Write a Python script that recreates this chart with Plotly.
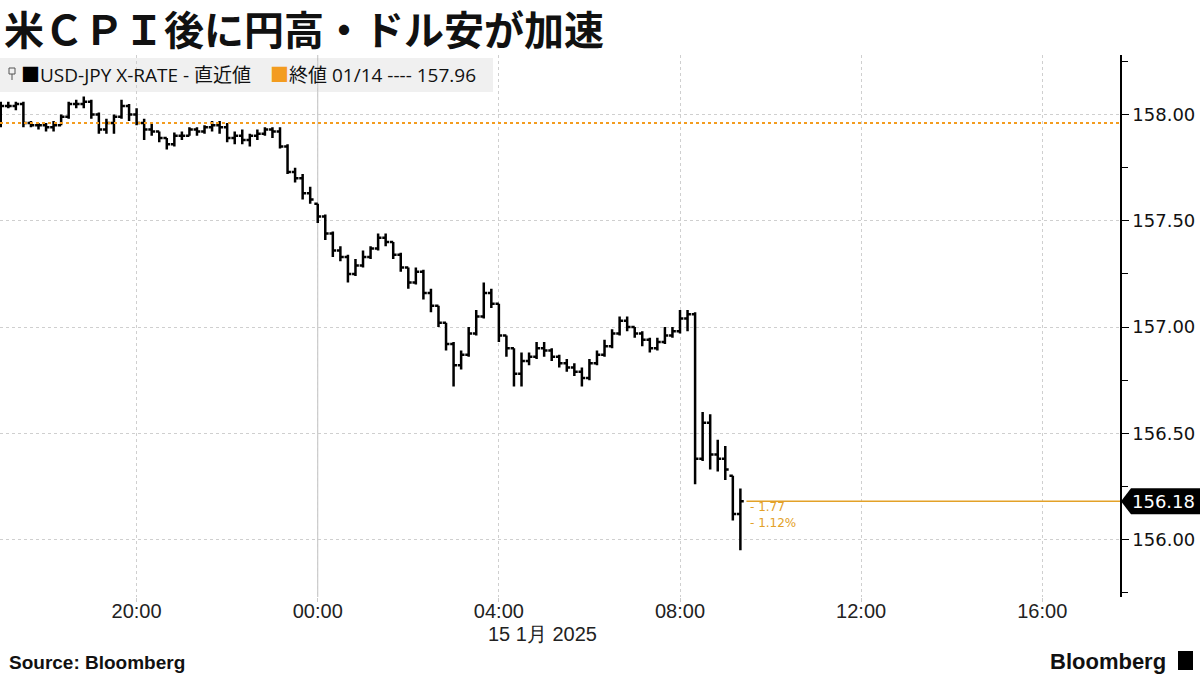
import pandas as pd
import plotly.graph_objects as go

# ---- data (10-minute bars, USD-JPY) ----
bar_start = "2025-01-14 17:00"
bar_count = 99
times = pd.date_range(bar_start, periods=bar_count, freq="10min")

opens = [158.03,158.04,158.04,158.05,157.96,157.95,157.95,157.94,157.95,157.99,
         158.05,158.05,158.06,158.00,157.93,157.96,157.99,158.04,158.00,157.96,
         157.93,157.92,157.89,157.86,157.90,157.90,157.93,157.92,157.94,157.95,
         157.94,157.89,157.90,157.88,157.90,157.91,157.93,157.92,157.85,157.73,
         157.70,157.63,157.58,157.52,157.44,157.36,157.33,157.25,157.29,157.33,
         157.37,157.42,157.40,157.34,157.28,157.21,157.26,157.16,157.10,157.02,
         156.92,156.82,156.87,156.97,157.05,157.16,157.11,156.96,156.90,156.78,
         156.84,156.86,156.90,156.89,156.86,156.83,156.81,156.79,156.76,156.83,
         156.87,156.91,156.97,157.03,157.00,156.97,156.94,156.90,156.93,156.96,
         156.98,157.04,157.06,156.38,156.55,156.40,156.38,156.30,156.12]
highs = [158.06,158.06,158.06,158.06,157.97,157.96,157.96,157.97,158.00,158.06,
         158.07,158.085,158.07,158.01,157.98,158.00,158.07,158.05,158.03,157.98,
         157.96,157.92,157.89,157.915,157.92,157.94,157.94,157.95,157.97,157.97,
         157.96,157.92,157.93,157.91,157.93,157.94,157.94,157.94,157.86,157.75,
         157.72,157.66,157.58,157.53,157.45,157.38,157.34,157.32,157.36,157.38,
         157.44,157.44,157.40,157.35,157.28,157.28,157.27,157.18,157.10,157.02,
         156.93,156.89,157.00,157.08,157.21,157.18,157.11,156.96,156.90,156.88,
         156.88,156.93,156.93,156.90,156.87,156.85,156.83,156.81,156.85,156.89,
         156.94,156.99,157.05,157.05,157.00,156.98,156.95,156.95,157.00,157.00,
         157.08,157.08,157.07,156.60,156.59,156.47,156.44,156.30,156.24]
lows = [157.94,158.03,158.02,157.94,157.94,157.93,157.92,157.92,157.95,157.98,
        158.03,158.03,157.98,157.91,157.91,157.91,157.98,157.97,157.95,157.88,
        157.90,157.87,157.835,157.85,157.88,157.90,157.90,157.91,157.92,157.91,
        157.87,157.86,157.86,157.85,157.88,157.90,157.89,157.84,157.72,157.68,
        157.60,157.58,157.49,157.41,157.33,157.31,157.21,157.24,157.28,157.32,
        157.36,157.38,157.32,157.26,157.18,157.20,157.13,157.07,157.00,156.89,
        156.72,156.80,156.86,156.96,157.04,157.09,156.93,156.86,156.72,156.72,
        156.82,156.85,156.86,156.84,156.81,156.79,156.77,156.72,156.75,156.82,
        156.86,156.90,156.96,156.98,156.95,156.91,156.88,156.89,156.92,156.95,
        156.97,156.98,156.26,156.37,156.33,156.32,156.28,156.09,155.95]
closes = [158.04,158.04,158.05,157.96,157.95,157.95,157.94,157.95,157.99,158.05,
          158.05,158.06,158.00,157.93,157.96,157.99,158.04,158.00,157.96,157.93,
          157.92,157.89,157.86,157.90,157.90,157.93,157.92,157.94,157.95,157.94,
          157.89,157.90,157.88,157.90,157.91,157.93,157.92,157.85,157.73,157.70,
          157.63,157.60,157.52,157.44,157.36,157.33,157.25,157.29,157.33,157.37,
          157.42,157.40,157.34,157.28,157.21,157.26,157.16,157.10,157.02,156.92,
          156.82,156.87,156.97,157.05,157.16,157.11,156.96,156.90,156.78,156.84,
          156.86,156.90,156.89,156.86,156.83,156.81,156.79,156.76,156.83,156.87,
          156.91,156.97,157.03,157.00,156.97,156.94,156.90,156.93,156.96,156.98,
          157.04,157.06,156.38,156.55,156.40,156.38,156.33,156.12,156.18]

prev_close = 157.96
last_price = 156.18
change_abs = "- 1.77"
change_pct = "- 1.12%"

x_range = ["2025-01-14 16:59", "2025-01-15 17:43"]
x_tick_vals = ["2025-01-14 20:00", "2025-01-15 00:00", "2025-01-15 04:00",
               "2025-01-15 08:00", "2025-01-15 12:00", "2025-01-15 16:00"]
x_tick_text = ["20:00", "00:00", "04:00", "08:00", "12:00", "16:00"]
day_boundary = "2025-01-15 00:00"
y_tick_vals = [156.0, 156.5, 157.0, 157.5, 158.0]
y_range = [155.73, 158.28]

title_text = "米ＣＰＩ後に円高・ドル安が加速"
legend_series = "USD-JPY X-RATE - 直近値"
legend_prev = "終値 01/14 ---- 157.96"
date_label = "15 1月 2025"
source_text = "Source: Bloomberg"

ORANGE = "#f39c1f"
GOLD = "#e3a128"
GRID = "#cfcfcf"

W, H = 1200, 675
L, R, T, B = 0, 80, 55, 78
PW = W - L - R
PH = H - T - B

def px_x(px):
    return (px - L) / PW

def px_y(py):
    return (H - B - py) / PH

fig = go.Figure()
fig.add_trace(go.Ohlc(
    x=times, open=opens, high=highs, low=lows, close=closes,
    increasing=dict(line=dict(color="black", width=2.5)),
    decreasing=dict(line=dict(color="black", width=2.5)),
    tickwidth=0.45, showlegend=False, hoverinfo="skip",
))

shapes = []
shapes.append(dict(type="rect", xref="paper", yref="paper", layer="below",
                   x0=px_x(0), x1=px_x(493), y0=px_y(92), y1=px_y(58),
                   fillcolor="#f0f0f0", line=dict(width=0)))
shapes.append(dict(type="line", xref="x", yref="paper", layer="below",
                   x0=day_boundary, x1=day_boundary, y0=0, y1=1,
                   line=dict(color="#bdbdbd", width=1)))
shapes.append(dict(type="line", xref="paper", yref="y", layer="above",
                   x0=0, x1=1, y0=prev_close, y1=prev_close,
                   line=dict(color=ORANGE, width=2, dash="dot")))
shapes.append(dict(type="line", xref="x", yref="y", layer="above",
                   x0=times[-1] + pd.Timedelta(minutes=8), x1=x_range[1],
                   y0=last_price, y1=last_price,
                   line=dict(color=GOLD, width=1.5)))
h = 13 / 212.5
shapes.append(dict(type="path", xref="paper", yref="y", layer="above",
                   path=(f"M {px_x(1121)},{last_price} L {px_x(1131)},{last_price + h} "
                         f"L {px_x(1200)},{last_price + h} L {px_x(1200)},{last_price - h} "
                         f"L {px_x(1131)},{last_price - h} Z"),
                   fillcolor="black", line=dict(width=0)))
shapes.append(dict(type="rect", xref="paper", yref="paper", layer="above",
                   x0=px_x(9), x1=px_x(15), y0=px_y(74), y1=px_y(68),
                   fillcolor="rgba(0,0,0,0)", line=dict(color="#555", width=1)))
shapes.append(dict(type="line", xref="paper", yref="paper", layer="above",
                   x0=px_x(12), x1=px_x(12), y0=px_y(80), y1=px_y(74),
                   line=dict(color="#555", width=1)))
shapes.append(dict(type="rect", xref="paper", yref="paper", layer="above",
                   x0=px_x(1178), x1=px_x(1193), y0=px_y(670), y1=px_y(651),
                   fillcolor="black", line=dict(width=0)))

annotations = []
annotations.append(dict(xref="paper", yref="paper", x=px_x(2), y=px_y(28),
                        xanchor="left", yanchor="middle", showarrow=False,
                        text=title_text,
                        font=dict(family="Noto Sans CJK JP", size=40, color="#111", weight=700)))
annotations.append(dict(xref="paper", yref="paper", x=px_x(19), y=px_y(75),
                        xanchor="left", yanchor="middle", showarrow=False,
                        text=f"<span style='color:#000'>■</span>{legend_series}",
                        font=dict(family="Open Sans, Noto Sans CJK JP", size=19, color="#111")))
annotations.append(dict(xref="paper", yref="paper", x=px_x(268), y=px_y(75),
                        xanchor="left", yanchor="middle", showarrow=False,
                        text=f"<span style='color:{ORANGE}'>■</span>{legend_prev}",
                        font=dict(family="Open Sans, Noto Sans CJK JP", size=19, color="#111")))
annotations.append(dict(xref="paper", yref="y", x=px_x(1163), y=last_price,
                        xanchor="center", yanchor="middle", showarrow=False,
                        text=f"{last_price:.2f}",
                        font=dict(family="DejaVu Sans", size=18, color="white")))
annotations.append(dict(xref="paper", yref="paper", x=px_x(748), y=px_y(507),
                        xanchor="left", yanchor="middle", showarrow=False,
                        text=change_abs,
                        font=dict(family="DejaVu Sans", size=12, color=GOLD)))
annotations.append(dict(xref="paper", yref="paper", x=px_x(748), y=px_y(523),
                        xanchor="left", yanchor="middle", showarrow=False,
                        text=change_pct,
                        font=dict(family="DejaVu Sans", size=12, color=GOLD)))
annotations.append(dict(xref="paper", yref="paper", x=px_x(542), y=px_y(634),
                        xanchor="center", yanchor="middle", showarrow=False,
                        text=date_label,
                        font=dict(family="Liberation Sans Narrow, Liberation Sans", size=20, color="#222")))
annotations.append(dict(xref="paper", yref="paper", x=px_x(7), y=px_y(662),
                        xanchor="left", yanchor="middle", showarrow=False,
                        text=f"<b>{source_text}</b>",
                        font=dict(family="Liberation Sans", size=19, color="#111")))
annotations.append(dict(xref="paper", yref="paper", x=px_x(1168), y=px_y(661),
                        xanchor="right", yanchor="middle", showarrow=False,
                        text="<b>Bloomberg</b>",
                        font=dict(family="Liberation Sans Narrow, Liberation Sans", size=22, color="#111")))

fig.update_layout(
    width=W, height=H,
    margin=dict(l=L, r=R, t=T, b=B, autoexpand=False),
    paper_bgcolor="white", plot_bgcolor="white",
    shapes=shapes, annotations=annotations,
    xaxis=dict(type="date", range=x_range, rangeslider=dict(visible=False),
               tickvals=x_tick_vals, ticktext=x_tick_text,
               showgrid=True, gridcolor=GRID, griddash="3px,3px", gridwidth=1,
               ticks="outside", ticklen=4, tickcolor="#cccccc",
               ticklabelstandoff=-8,
               showline=False, zeroline=False,
               tickfont=dict(family="Liberation Sans Narrow, Liberation Sans", size=20, color="#222")),
    yaxis=dict(side="right", range=y_range, tickvals=y_tick_vals, tickformat=".2f",
               showgrid=True, gridcolor=GRID, griddash="3px,3px", gridwidth=1,
               showline=True, linecolor="black", linewidth=1.5,
               ticks="outside", ticklen=7, tickcolor="black",
               minor=dict(dtick=0.25, tick0=0, ticks="outside", ticklen=6,
                          tickcolor="black", showgrid=False),
               zeroline=False,
               tickfont=dict(family="DejaVu Sans", size=18, color="#111")),
)

fig.write_html("out.html",
               config={"displayModeBar": False},
               post_script="document.body.style.margin='0px';document.body.style.overflow='hidden';")
